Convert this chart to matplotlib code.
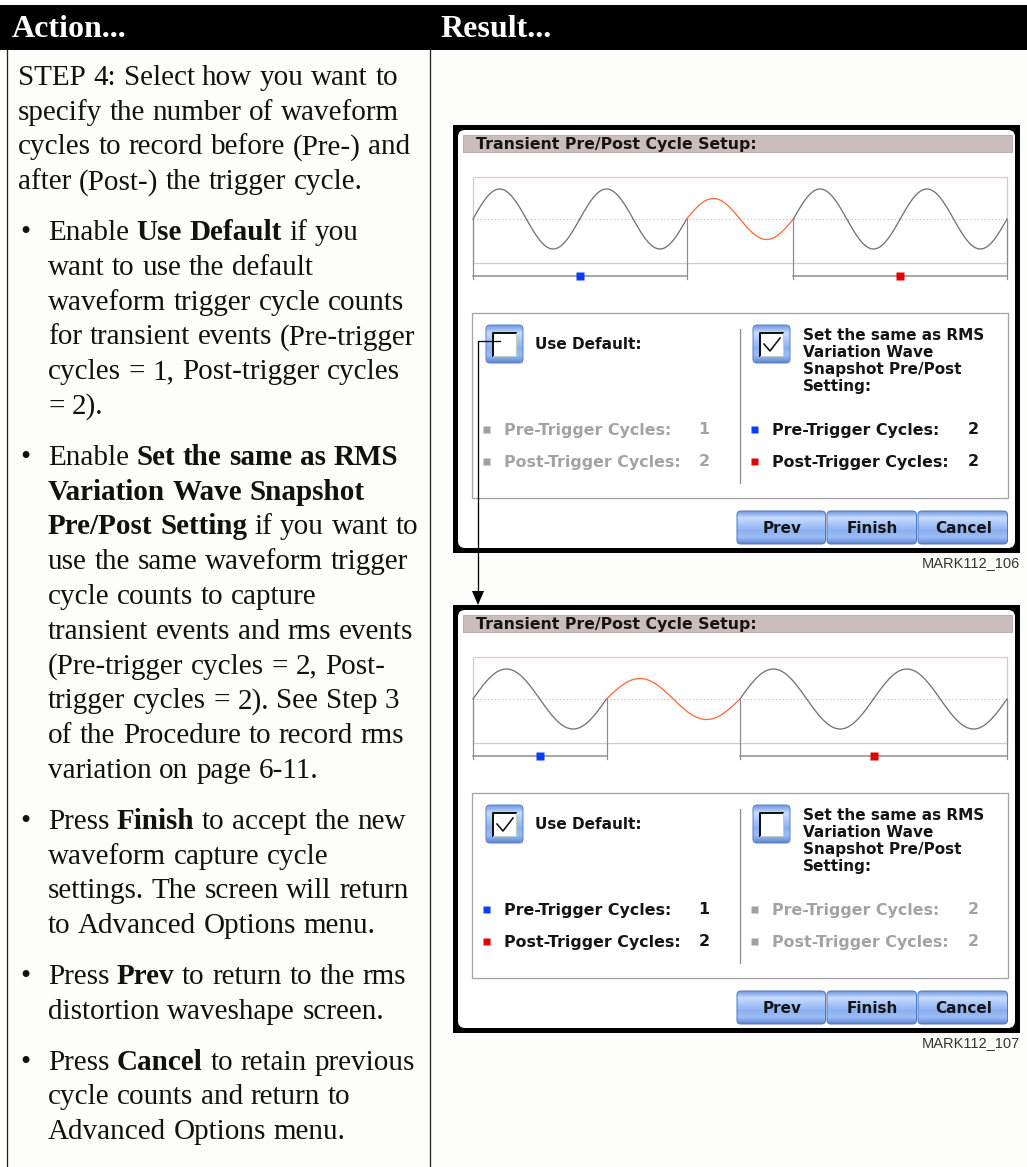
import numpy as np
import matplotlib
matplotlib.use("Agg")
import matplotlib.pyplot as plt
from matplotlib.patches import Rectangle, FancyBboxPatch, Polygon
from matplotlib.colors import LinearSegmentedColormap

W, H = 1027, 1167

# left column: paragraphs of (bullet, lines), each line a list of (text, bold) runs
PARAGRAPHS = [
    (False, [
        [("STEP 4: Select how you want to", False)],
        [("specify the number of waveform", False)],
        [("cycles to record before (Pre-) and", False)],
        [("after (Post-) the trigger cycle.", False)],
    ]),
    (True, [
        [("Enable", False), ("Use Default", True), ("if you", False)],
        [("want to use the default", False)],
        [("waveform trigger cycle counts", False)],
        [("for transient events (Pre-trigger", False)],
        [("cycles = 1, Post-trigger cycles", False)],
        [("= 2).", False)],
    ]),
    (True, [
        [("Enable", False), ("Set the same as RMS", True)],
        [("Variation Wave Snapshot", True)],
        [("Pre/Post Setting", True), ("if you want to", False)],
        [("use the same waveform trigger", False)],
        [("cycle counts to capture", False)],
        [("transient events and rms events", False)],
        [("(Pre-trigger cycles = 2, Post-", False)],
        [("trigger cycles = 2). See Step 3", False)],
        [("of the Procedure to record rms", False)],
        [("variation on page 6-11.", False)],
    ]),
    (True, [
        [("Press", False), ("Finish", True), ("to accept the new", False)],
        [("waveform capture cycle", False)],
        [("settings. The screen will return", False)],
        [("to Advanced Options menu.", False)],
    ]),
    (True, [
        [("Press", False), ("Prev", True), ("to return to the rms", False)],
        [("distortion waveshape screen.", False)],
    ]),
    (True, [
        [("Press", False), ("Cancel", True), ("to retain previous", False)],
        [("cycle counts and return to", False)],
        [("Advanced Options menu.", False)],
    ]),
]

HEADERS = ["Action...", "Result..."]

# the two instrument screens
SCREEN_TOPS = [125, 605]
PRE_CYCLES = [2, 1]
POST_CYCLES = [2, 2]
DEFAULT_CHECKED = [False, True]
DEFAULT_COUNTS = [1, 2]
RMS_COUNTS = [2, 2]
WAVE_AMP = 30
TRIGGER_AMP = 20.5
MARK_LABELS = ["MARK112_106", "MARK112_107"]
BUTTONS = ["Prev", "Finish", "Cancel"]
RMS_LABEL = ["Set the same as RMS", "Variation Wave", "Snapshot Pre/Post", "Setting:"]

BODY_PT = 21
LINE_H = 34.75
PARA_GAP = 51
SCREEN_FONT = "DejaVu Sans"
DARK = "#151515"
GREY_TXT = "#a3a3a3"

fig = plt.figure(figsize=(W / 100, H / 100), dpi=100)
fig.patch.set_facecolor("#fdfdfc")
ax = fig.add_axes([0, 0, 1, 1])
ax.set_axis_off()
ax.set_xlim(0, W)
ax.set_ylim(H, 0)
renderer = fig.canvas.get_renderer()

btn_cmap = LinearSegmentedColormap.from_list(
    "btn", ["#6f97e3", "#c9dcff", "#a9c6fa", "#8cb0f0", "#9dbdf6", "#5f86d4"])


def px(v):
    return v * 0.72


def draw_words(x, y, runs, size):
    space = size / 72 * 100 * 0.25
    for text, bold in runs:
        for word in text.split(" "):
            t = ax.text(x, y, word, fontsize=size, family="Liberation Serif",
                        fontweight="bold" if bold else "normal", color="#111111",
                        ha="left", va="baseline")
            w = t.get_window_extent(renderer).width
            x += w + space + 0.3


def grad_box(x0, y0, x1, y1, r, edge):
    patch = FancyBboxPatch((x0, y0), x1 - x0, y1 - y0,
                           boxstyle=f"round,pad=0,rounding_size={r}",
                           fc="none", ec=edge, lw=px(1), zorder=4)
    ax.add_patch(patch)
    grad = np.linspace(0, 1, 64).reshape(-1, 1)
    im = ax.imshow(grad, extent=(x0, x1, y1, y0), cmap=btn_cmap, aspect="auto",
                   origin="upper", zorder=3, interpolation="bilinear")
    im.set_clip_path(patch)


def checkbox(x0, y0, checked):
    grad_box(x0, y0, x0 + 37, y0 + 38, 4, "#5c82c8")
    ix, iy = x0 + 7, y0 + 8
    ax.add_patch(Rectangle((ix, iy), 23, 23, fc="white", ec="none", zorder=5))
    ax.plot([ix, ix, ix + 23], [iy + 23, iy, iy], color="#111111", lw=px(2), zorder=6)
    ax.plot([ix + 23, ix + 23, ix], [iy, iy + 23, iy + 23], color="#c8c8c8", lw=px(1), zorder=6)
    if checked:
        ax.plot([ix + 4, ix + 10, ix + 20], [iy + 11, iy + 18, iy + 5],
                color="#111111", lw=px(1.6), zorder=7)


def draw_screen(k):
    dy = SCREEN_TOPS[k] - 125
    n_pre, n_post = PRE_CYCLES[k], POST_CYCLES[k]
    use_default = DEFAULT_CHECKED[k]

    ax.add_patch(Rectangle((453, 125 + dy), 567, 428, fc="black", ec="none", zorder=1))
    ax.add_patch(FancyBboxPatch((458, 130 + dy), 557, 418,
                                boxstyle="round,pad=0,rounding_size=7",
                                fc="white", ec="none", zorder=2))
    ax.add_patch(Rectangle((463, 135 + dy), 549, 17, fc="#cbbdbb", ec="#bcaeac",
                           lw=px(1), zorder=3))
    ax.text(476, 149 + dy, "Transient Pre/Post Cycle Setup:", family=SCREEN_FONT,
            fontweight="bold", fontsize=11.3, color=DARK, va="baseline", zorder=4)

    # waveform panel
    x0, x1 = 473, 1007
    mid = 219 + dy
    n = n_pre + 1 + n_post
    cw = (x1 - x0) / n
    ax.add_patch(Rectangle((x0, 177 + dy), x1 - x0, 86, fc="none", ec="#d8caca",
                           lw=px(1.3), zorder=3))
    ax.plot([x0, x1], [mid, mid], color="#cfbcbc", lw=px(1.2),
            linestyle=(0, (1, 2)), zorder=3)
    t = np.linspace(0, 1, 80)
    for c in range(n):
        trig = c == n_pre
        amp = TRIGGER_AMP if trig else WAVE_AMP
        # the screen trace is a plain sine cycle of the given amplitude
        ax.plot(x0 + (c + t) * cw, mid - amp * np.sin(2 * np.pi * t),
                color="#ff6a3d" if trig else "#737373", lw=px(1.3), zorder=4)
    b1 = x0 + n_pre * cw
    b2 = x0 + (n_pre + 1) * cw
    yb = 276 + dy
    for xv in (x0, b1, b2, x1):
        ax.plot([xv, xv], [mid, yb + 3], color="#8c8c8c", lw=px(1.2), zorder=4)
    ax.plot([x0, b1], [yb, yb], color="#8c8c8c", lw=px(1.5), zorder=4)
    ax.plot([b2, x1], [yb, yb], color="#8c8c8c", lw=px(1.5), zorder=4)
    ax.plot([(x0 + b1) / 2], [yb], marker="s", ms=px(8), color="#0a3cff", mec="none", zorder=5)
    ax.plot([(b2 + x1) / 2], [yb], marker="s", ms=px(8), color="#e00000", mec="none", zorder=5)

    # options panel
    ax.add_patch(Rectangle((472, 313 + dy), 536, 185, fc="none", ec="#a5a5a5",
                           lw=px(1.3), zorder=3))
    ax.plot([740, 740], [329 + dy, 483 + dy], color="#8a8a8a", lw=px(1.2), zorder=3)
    checkbox(486, 325 + dy, use_default)
    checkbox(753, 325 + dy, not use_default)
    ax.text(535, 349 + dy, "Use Default:", family=SCREEN_FONT, fontweight="bold",
            fontsize=11, color=DARK, va="baseline", zorder=5)
    for i, line in enumerate(RMS_LABEL):
        ax.text(803, 339.5 + dy + i * 17.3, line, family=SCREEN_FONT, fontweight="bold",
                fontsize=11, color=DARK, va="baseline", zorder=5)

    rows = ["Pre-Trigger Cycles:", "Post-Trigger Cycles:"]
    for side in range(2):
        active = (side == 0) == use_default
        counts = DEFAULT_COUNTS if side == 0 else RMS_COUNTS
        sx = 486 if side == 0 else 754
        tx = 504 if side == 0 else 772
        nx = 704 if side == 0 else 973
        for r in range(2):
            yy = 429 + dy + r * 32
            if active:
                col = "#0a3cff" if r == 0 else "#e00000"
                tcol = DARK
            else:
                col = "#a0a0a0"
                tcol = GREY_TXT
            ax.plot([sx], [yy], marker="s", ms=px(7), color=col, mec="none", zorder=5)
            ax.text(tx, yy + 5.5, rows[r], family=SCREEN_FONT, fontweight="bold",
                    fontsize=11.4, color=tcol, va="baseline", zorder=5)
            ax.text(nx, yy + 5.5, str(counts[r]), family=SCREEN_FONT, fontweight="bold",
                    fontsize=11.4, color=tcol, va="baseline", ha="center", zorder=5)

    # buttons
    edges = [737, 827, 918, 1009]
    for i, label in enumerate(BUTTONS):
        grad_box(edges[i], 511 + dy, edges[i + 1] - 1.5, 544 + dy, 4, "#5177c0")
        ax.text((edges[i] + edges[i + 1]) / 2, 533 + dy, label, family=SCREEN_FONT,
                fontweight="bold", fontsize=11, color=DARK, ha="center",
                va="baseline", zorder=6)

    ax.text(1020, 563 + dy, MARK_LABELS[k], family="Liberation Sans", fontsize=10.5,
            color="#333333", ha="right", va="center", zorder=5)


# table frame and header
ax.add_patch(Rectangle((0, 5), W, 45, fc="black", ec="none", zorder=1))
ax.text(12, 37, HEADERS[0], family="Liberation Serif", fontweight="bold",
        fontsize=23, color="white", va="baseline", zorder=2)
ax.text(440, 37, HEADERS[1], family="Liberation Serif", fontweight="bold",
        fontsize=23, color="white", va="baseline", zorder=2)
ax.plot([7, 7], [50, H], color="#222222", lw=px(1.3))
ax.plot([430, 430], [50, H], color="#222222", lw=px(1.3))

# left column text
y = 85
for p, (bullet, lines) in enumerate(PARAGRAPHS):
    if p > 0:
        y += PARA_GAP
    for j, runs in enumerate(lines):
        if j > 0:
            y += LINE_H
        if bullet:
            if j == 0:
                ax.text(20, y, "\u2022", family="Liberation Serif", fontsize=BODY_PT,
                        color="#111111", va="baseline")
            draw_words(48, y, runs, BODY_PT)
        else:
            draw_words(18, y, runs, BODY_PT)

for k in range(len(SCREEN_TOPS)):
    draw_screen(k)

# connector arrow from the Use Default box to the second screen
ax.plot([500, 478, 478], [341, 341, 592], color="black", lw=px(1.3), zorder=8)
ax.add_patch(Polygon([[472, 591], [484, 591], [478, 605]], closed=True,
                     fc="black", ec="none", zorder=8))

ax.set_xlim(0, W)
ax.set_ylim(H, 0)
fig.savefig("out.png", dpi=100, facecolor=fig.get_facecolor())
